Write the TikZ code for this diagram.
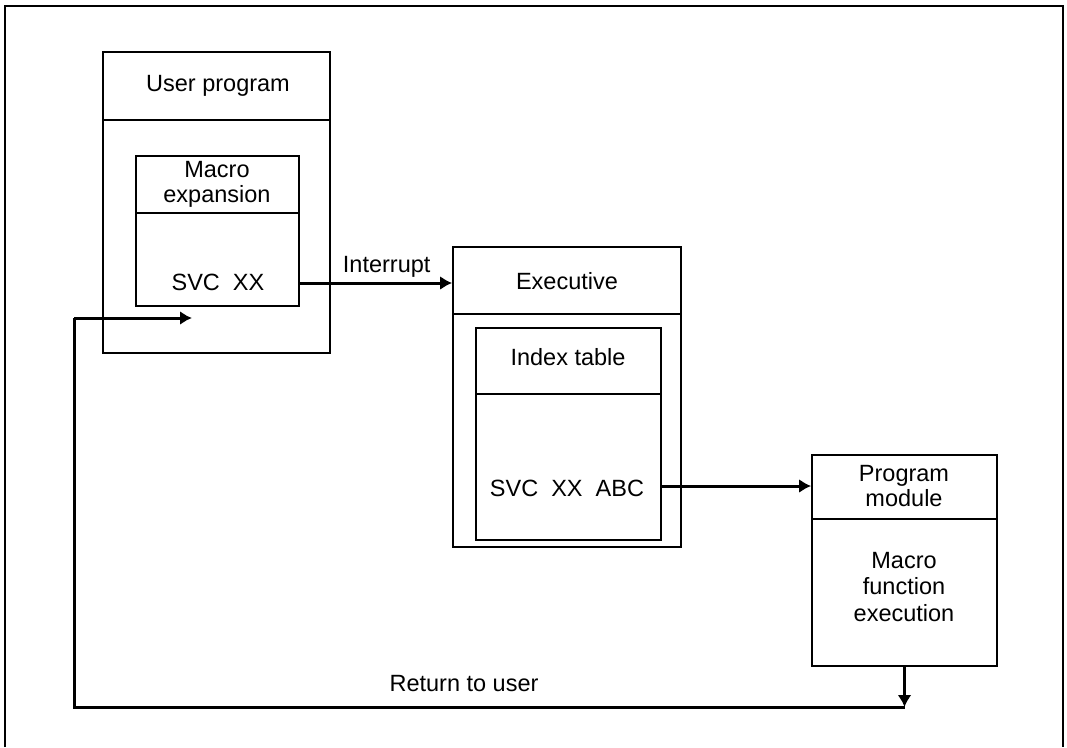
\documentclass[tikz,border=0pt]{standalone}
\usepackage{fontspec}
\setmainfont{Liberation Sans}
\usetikzlibrary{arrows.meta,positioning,calc}

\begin{document}
\begin{tikzpicture}[
    x=1pt, y=-1pt,
    box/.style={rectangle, draw, line width=1.8pt, inner sep=0pt},
    lbl/.style={align=center, font=\fontsize{23.5}{25}\selectfont, inner sep=1pt},
    arrow/.style={-{Latex[length=12pt,width=14pt]}, line width=3pt},
    frame/.style={line width=2pt}
  ]
    \useasboundingbox (0,0) rectangle (1067,747);
    \draw[frame] (5,747) -- (5,6) -- (1063,6) -- (1063,747);

    % Boxes
    \node[box, minimum width=227pt, minimum height=301pt] (user) at (216.5,202.5) {};
    \node[box, minimum width=163pt, minimum height=150pt] (macro) at (217.5,231) {};
    \node[box, minimum width=228pt, minimum height=300pt] (exec) at (567,397) {};
    \node[box, minimum width=185pt, minimum height=212pt] (index) at (568.5,434) {};
    \node[box, minimum width=185pt, minimum height=211pt] (prog) at (904.5,560.5) {};

    % Header lines
    \draw[line width=1.8pt] (user.west |- 0,120) -- (user.east |- 0,120);
    \draw[line width=1.8pt] (macro.west |- 0,213) -- (macro.east |- 0,213);
    \draw[line width=1.8pt] (exec.west |- 0,314) -- (exec.east |- 0,314);
    \draw[line width=1.8pt] (index.west |- 0,394) -- (index.east |- 0,394);
    \draw[line width=1.8pt] (prog.west |- 0,519) -- (prog.east |- 0,519);

    % Texts
    \node[lbl] (usert) at (218,86) {User program};
    \node[lbl] (macrot) at (217,184) {Macro\\expansion};
    \node[lbl] (svc) at (218,282) {SVC\ \ XX};
    \node[lbl] (exect) at (567,281) {Executive};
    \node[lbl] (indext) at (568,357) {Index table};
    \node[lbl] (svcabc) at (567,488) {SVC\ \ XX\ \ ABC};
    \node[lbl] (progt) at (904,486) {Program\\module};
    \node[lbl, font=\fontsize{23.5}{26.5}\selectfont] (funct) at (904,587) {Macro\\function\\execution};

    % Arrows
    \coordinate (corner) at (prog.south |- 0,707);
    \coordinate (loop) at (74,318);
    \coordinate (back) at (192,318);
    \draw[arrow] (macro.east |- 0,283) -- (exec.west |- 0,283)
      node[lbl, pos=0.57, above=3pt] (intr) {Interrupt};
    \draw[arrow] (index.east |- 0,486) -- (prog.west |- 0,486);
    \draw[arrow] (prog.south) -- (corner);
    \draw[line width=3pt] (corner) -| (loop);
    \draw[arrow] (loop) -- (back);

    \node[lbl] (rett) at (464,684) {Return to user};
\end{tikzpicture}
\end{document}
